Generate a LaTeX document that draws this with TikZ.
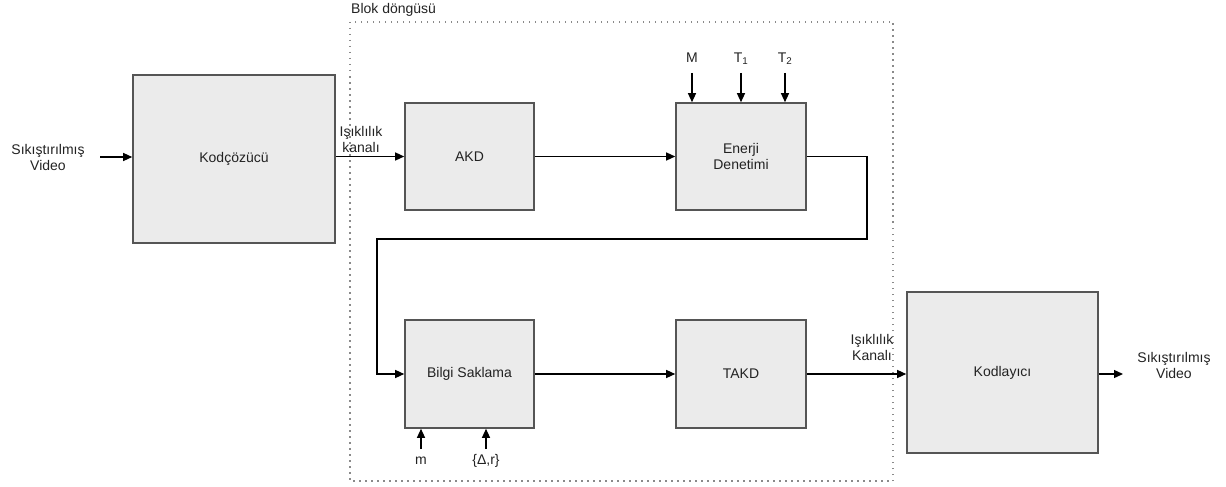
\documentclass[tikz,border=0pt]{standalone}
\usepackage{fontspec}
\setmainfont{Liberation Sans}
\usetikzlibrary{arrows.meta,calc}
\definecolor{boxfill}{HTML}{EBEBEB}
\definecolor{boxline}{HTML}{555555}
\definecolor{ink}{HTML}{222222}
\definecolor{dots}{HTML}{8A8A8A}
\begin{document}
\begin{tikzpicture}[x=1pt,y=-1pt,
  font=\fontsize{14}{16}\selectfont, text=ink,
  block/.style={draw=boxline, fill=boxfill, line width=1.6pt, rectangle, inner sep=0pt, align=center},
  lbl/.style={inner sep=0pt, align=center},
  arr/.style={line width=1.3pt, -{Triangle[length=9pt,width=8pt]}},
  loopframe/.style={draw=dots, line width=1.6pt, dash pattern=on 1.5pt off 4.5pt}]
\useasboundingbox (0,0) rectangle (1226,487);

% dotted frame of the block loop
\draw[loopframe] (350,22) rectangle (893,481);
\node[lbl, anchor=west] (loopname) at (351,10) {Blok döngüsü};

% processing blocks
\node[block, minimum width=202pt, minimum height=168pt] (dec) at (234,159) {Kodçözücü};
\node[block, minimum width=129pt, minimum height=107pt] (akd) at (469.5,156.5) {AKD};
\node[block, minimum width=130pt, minimum height=107pt] (en) at (741,156.5) {Enerji\\Denetimi};
\node[block, minimum width=129pt, minimum height=108pt] (bs) at (469.5,374) {Bilgi Saklama};
\node[block, minimum width=130pt, minimum height=108pt] (takd) at (741,374) {TAKD};
\node[block, minimum width=191pt, minimum height=161pt] (enc) at (1002.5,372.5) {Kodlayıcı};

% outer inputs and outputs
\node[lbl] (vin) at (48,157) {Sıkıştırılmış\\Video};
\node[lbl] (vout) at (1174,365) {Sıkıştırılmış\\Video};
\node[lbl] (lum1) at (361,139) {Işıklılık\\kanalı};
\node[lbl] (lum2) at (872,347) {Işıklılık\\Kanalı};

% parameter labels
\node[lbl] (pM) at (692,58) {M};
\node[lbl] (pT1) at (741,59) {T\textsubscript{1}};
\node[lbl] (pT2) at (785,59) {T\textsubscript{2}};
\node[lbl] (pm) at (421,461) {m};
\node[lbl] (pdr) at (486,461) {\{Δ,r\}};

\coordinate (vinEnd) at (100,157);
\coordinate (voutEnd) at (1123,374);
\coordinate (inM) at (692,73);
\coordinate (inT1) at (741,73);
\coordinate (inT2) at (785,73);
\coordinate (inm) at (421,449);
\coordinate (indr) at (486,449);
\coordinate (loopR) at (867,239);
\coordinate (loopL) at (377,239);

% signal flow
\draw[arr] (vinEnd) -- (vinEnd -| dec.west);
\draw[arr] (dec.east |- akd.west) -- (akd.west);
\draw[arr] (akd.east) -- (en.west);
\draw[arr] (en.east) -| (loopR) -- (loopL) |- (bs.west);
\draw[arr] (bs.east) -- (takd.west);
\draw[arr] (takd.east) -- (enc.west |- takd.east);
\draw[arr] (enc.east |- voutEnd) -- (voutEnd);

% parameter inputs
\draw[arr] (inM) -- (inM |- en.north);
\draw[arr] (inT1) -- (inT1 |- en.north);
\draw[arr] (inT2) -- (inT2 |- en.north);
\draw[arr] (inm) -- (inm |- bs.south);
\draw[arr] (indr) -- (indr |- bs.south);
\end{tikzpicture}
\end{document}
